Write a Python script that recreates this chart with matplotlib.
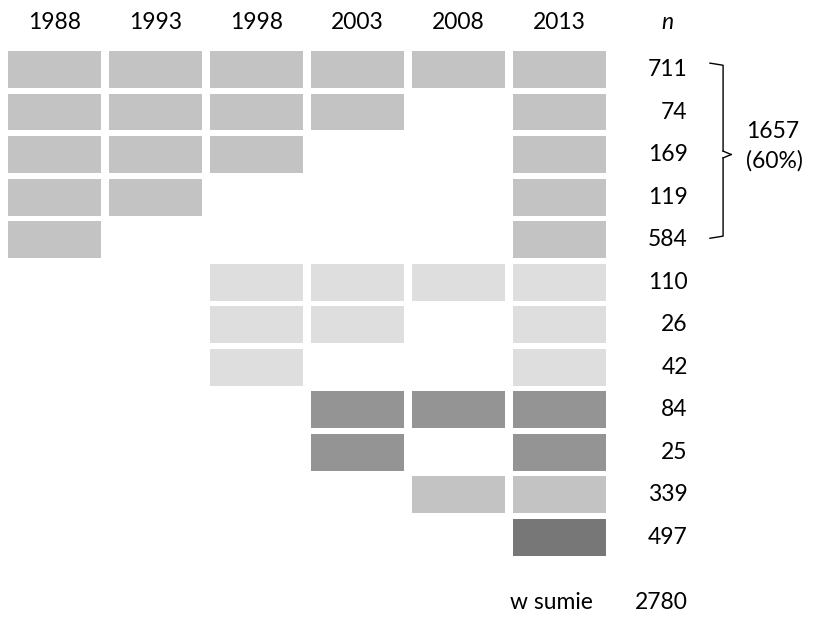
import matplotlib
matplotlib.use("Agg")
import matplotlib.pyplot as plt
from matplotlib.patches import Rectangle

plt.rcParams['font.family'] = ['Liberation Sans Narrow', 'Lato', 'DejaVu Sans']

# survey years (columns)
years = ["1988", "1993", "1998", "2003", "2008", "2013"]

# respondents per group (rows) and the waves each group took part in
n_values = [711, 74, 169, 119, 584, 110, 26, 42, 84, 25, 339, 497]
waves = [
    [0, 1, 2, 3, 4, 5],
    [0, 1, 2, 3, 5],
    [0, 1, 2, 5],
    [0, 1, 5],
    [0, 5],
    [2, 3, 4, 5],
    [2, 3, 5],
    [2, 5],
    [3, 4, 5],
    [3, 5],
    [4, 5],
    [5],
]
row_colors = ["#c3c3c3"] * 5 + ["#dedede"] * 3 + ["#949494"] * 2 + ["#c3c3c3", "#777777"]

total = 2780
bracket_sum = "1657"
bracket_share = "(60%)"

CELL_W = 0.92
CELL_H = 0.87
FS = 16.5

fig = plt.figure(figsize=(8.16, 6.17), dpi=100)
ax = fig.add_axes([0, 0, 1, 1])
ax.set_xlim(-0.5396, 7.540)
ax.set_ylim(12.88, -1.635)
ax.axis("off")

for row, (cols, color) in enumerate(zip(waves, row_colors)):
    for c in cols:
        ax.add_patch(Rectangle((c - CELL_W / 2, row - CELL_H / 2), CELL_W, CELL_H,
                               facecolor=color, edgecolor="none"))
    ax.text(6.27, row, str(n_values[row]), ha="right", va="center", fontsize=FS)

for i, y in enumerate(years):
    ax.text(i, -1.11, y, ha="center", va="center", fontsize=FS)
ax.text(6.07, -1.11, "n", ha="center", va="center", fontsize=FS, style="italic")

# bracket around the first five groups
bx0, bx1, btip = 6.49, 6.62, 6.70
ytop, ybot, ymid = -0.15, 3.97, 2.0
ax.plot([bx0, bx1, bx1], [ytop, ytop + 0.05, ymid - 0.08], color="black", lw=1)
ax.plot([bx1, bx1, bx0], [ymid + 0.08, ybot - 0.05, ybot], color="black", lw=1)
ax.plot([bx1, btip], [ymid - 0.08, ymid], color="black", lw=1)
ax.plot([bx1, btip], [ymid + 0.08, ymid], color="black", lw=1)
ax.text(6.85, 1.45, bracket_sum, ha="left", va="center", fontsize=FS)
ax.text(6.85, 2.15, bracket_share, ha="left", va="center", fontsize=FS)

ax.text(5.33, 12.54, "w sumie", ha="right", va="center", fontsize=FS)
ax.text(6.27, 12.54, str(total), ha="right", va="center", fontsize=FS)

fig.savefig("out.png", dpi=100)
